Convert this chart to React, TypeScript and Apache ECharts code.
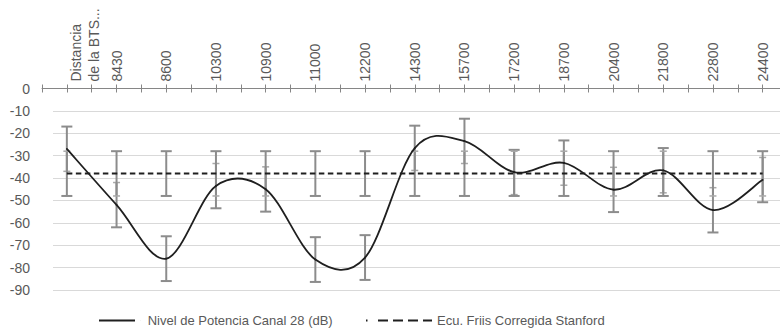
import { useEffect, useRef } from 'react';
import * as echarts from 'echarts';

// Categories along the top axis (distance to the base station)
const distancias = [
  'Distancia\nde la BTS...', '8430', '8600', '10300', '10900', '11000', '12200',
  '14300', '15700', '17200', '18700', '20400', '21800', '22800', '24400',
];

// Measured power level, channel 28 (dB)
const nivelPotencia = [
  -27, -52, -76, -43.5, -45, -76.4, -75.5, -26.6, -23.5, -37.4, -33.2, -45.2, -36.6, -54.3, -40.8,
];
const errorPotencia = [10, 10, 10, 10, 10, 10, 10, 10, 10, 10, 10, 10, 10, 10, 10];

// Corrected Friis equation (Stanford model)
const friisStanford = [
  -38, -38, -38, -38, -38, -38, -38, -38, -38, -38, -38, -38, -38, -38, -38,
];
const errorFriis = [10, 10, 10, 10, 10, 10, 10, 10, 10, 10, 10, 10, 10, 10, 10];

// Value axis ticks (dB)
const nivelesDb = [0, -10, -20, -30, -40, -50, -60, -70, -80, -90];

const nombrePotencia = 'Nivel de Potencia Canal 28 (dB)';
const nombreFriis = 'Ecu. Friis Corregida Stanford';

const FONT = "'Liberation Sans', Arial, sans-serif";
const TEXT = '#595959';
const AXIS = '#868686';
const GRID = '#d9d9d9';
const BAR = '#8c8c8c';
const BAR_INNER = '#a8a8a8';
const INK = '#1f1f1f';

export default function App() {
  const ref = useRef<HTMLDivElement>(null);

  useEffect(() => {
    if (!ref.current) return;
    const chart = echarts.init(ref.current, undefined, { renderer: 'svg' });

    const yMin = Math.min(...nivelesDb);
    const yMax = Math.max(...nivelesDb);
    const yStep = nivelesDb[0] - nivelesDb[1];
    const n = distancias.length;

    const gridBox = { top: 88.5, right: -7.5, bottom: 40 };

    // [index, low A, high A, low B, high B]
    const barras = distancias.map((_, i) => [
      i,
      nivelPotencia[i] - errorPotencia[i],
      nivelPotencia[i] + errorPotencia[i],
      friisStanford[i] - errorFriis[i],
      friisStanford[i] + errorFriis[i],
    ]);

    const clampIdx = (k: number) => Math.max(0, Math.min(n - 1, k));

    const option: any = {
      animation: false,
      textStyle: { fontFamily: FONT },
      grid: [
        { ...gridBox, left: 42, outerBoundsMode: 'none', containLabel: false },
        { ...gridBox, left: 53, outerBoundsMode: 'none', containLabel: false },
      ],
      xAxis: [
        {
          type: 'category',
          gridIndex: 0,
          position: 'top',
          boundaryGap: true,
          data: distancias.map((d, i) =>
            i === 0
              ? { value: d, textStyle: { verticalAlign: 'top', lineHeight: 18 } }
              : d
          ),
          axisLine: { show: true, onZero: false, lineStyle: { color: AXIS, width: 1 } },
          axisTick: { show: false },
          axisLabel: {
            interval: 0,
            rotate: -90,
            margin: 7,
            color: TEXT,
            fontSize: 14,
            fontFamily: FONT,
            lineHeight: 18,
          },
          splitLine: { show: false },
          z: 5,
        },
        {
          // crossing tick marks at category centres and boundaries
          type: 'value',
          gridIndex: 0,
          position: 'top',
          offset: -4,
          min: -0.5,
          max: n - 0.5,
          interval: 0.5,
          axisLine: { show: false },
          axisTick: { show: true, length: 8, lineStyle: { color: AXIS, width: 1 } },
          axisLabel: { show: false },
          splitLine: { show: false },
          z: 5,
        },
        { type: 'value', gridIndex: 1, show: false, min: 0, max: 1 },
      ],
      yAxis: [
        {
          type: 'value',
          gridIndex: 0,
          min: yMin,
          max: yMax,
          interval: yStep,
          axisLine: { show: false },
          axisTick: { show: false },
          splitLine: { show: false },
          axisLabel: { color: TEXT, fontSize: 14, margin: 12, fontFamily: FONT },
        },
        {
          type: 'value',
          gridIndex: 1,
          min: yMin,
          max: yMax,
          interval: yStep,
          axisLine: { show: false },
          axisTick: { show: false },
          axisLabel: { show: false },
          splitLine: { show: true, showMaxLine: false, lineStyle: { color: GRID, width: 1 } },
        },
      ],
      legend: [
        {
          data: [{ name: nombrePotencia, icon: 'path://M0,0h40v2h-40zM45.95,0h0.05v2h-0.05z' }],
          left: 99,
          top: 314,
          padding: 0,
          itemWidth: 46,
          itemHeight: 1.8,
          selectedMode: false,
          textStyle: { color: TEXT, fontSize: 13, fontFamily: FONT },
        },
        {
          data: [
            {
              name: nombreFriis,
              icon: 'path://M0,0h1.5v2h-1.5z M12,0h10v2h-10z M27,0h10v2h-10z M42,0h10v2h-10z M57,0h9v2h-9z',
            },
          ],
          left: 366,
          top: 314,
          padding: 0,
          itemWidth: 66,
          itemHeight: 2,
          selectedMode: false,
          textStyle: { color: TEXT, fontSize: 13, fontFamily: FONT },
        },
      ],
      series: [
        {
          name: 'Barras de error',
          type: 'custom',
          xAxisIndex: 0,
          yAxisIndex: 0,
          z: 2,
          encode: { x: 0, y: [1, 2, 3, 4] },
          data: barras,
          renderItem: (_params: any, api: any) => {
            const i = api.value(0);
            const ranges = [
              [api.value(1), api.value(2)],
              [api.value(3), api.value(4)],
            ];
            const x = api.coord([i, 0])[0];
            const children: any[] = [];
            ranges.forEach(([lo, hi], r) => {
              const other = ranges[1 - r];
              const yHi = api.coord([i, hi])[1];
              const yLo = api.coord([i, lo])[1];
              children.push({
                type: 'line',
                shape: { x1: x, y1: yHi, x2: x, y2: yLo },
                style: { stroke: BAR, lineWidth: 2 },
              });
              [lo, hi].forEach((v) => {
                const inner = v > other[0] && v < other[1];
                const y = api.coord([i, v])[1];
                const half = inner ? 3.5 : 5.5;
                children.push({
                  type: 'line',
                  shape: { x1: x - half, y1: y, x2: x + half, y2: y },
                  style: { stroke: inner ? BAR_INNER : BAR, lineWidth: inner ? 1.5 : 2 },
                });
              });
            });
            return { type: 'group', children };
          },
        },
        {
          name: nombreFriis,
          type: 'line',
          xAxisIndex: 0,
          yAxisIndex: 0,
          z: 3,
          data: friisStanford,
          symbol: 'none',
          smooth: false,
          color: INK,
          lineStyle: { color: INK, width: 2, type: [5.5, 3.5] },
        },
        {
          name: nombrePotencia,
          type: 'custom',
          xAxisIndex: 0,
          yAxisIndex: 0,
          z: 4,
          itemStyle: { color: INK },
          encode: { x: 0, y: 1 },
          data: nivelPotencia.map((v, i) => [i, v]),
          renderItem: (params: any, api: any) => {
            const i = params.dataIndex;
            if (i >= n - 1) return null;
            const pt = (k: number) => {
              const c = clampIdx(k);
              return api.coord([c, nivelPotencia[c]]);
            };
            const p0 = pt(i - 1);
            const p1 = pt(i);
            const p2 = pt(i + 1);
            const p3 = pt(i + 2);
            return {
              type: 'bezierCurve',
              shape: {
                x1: p1[0],
                y1: p1[1],
                x2: p2[0],
                y2: p2[1],
                cpx1: p1[0] + (p2[0] - p0[0]) / 6,
                cpy1: p1[1] + (p2[1] - p0[1]) / 6,
                cpx2: p2[0] - (p3[0] - p1[0]) / 6,
                cpy2: p2[1] - (p3[1] - p1[1]) / 6,
              },
              style: { stroke: INK, lineWidth: 1.8, fill: 'none', lineCap: 'round' },
            };
          },
        },
      ],
    };

    chart.setOption(option);
    return () => chart.dispose();
  }, []);

  return (
    <div
      ref={ref}
      style={{ position: 'absolute', left: 0, top: 0, width: 780, height: 330 }}
    />
  );
}
